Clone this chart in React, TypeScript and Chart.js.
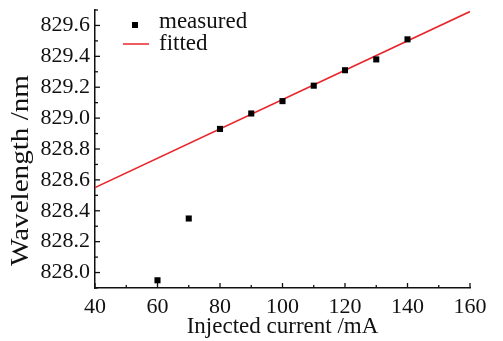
import React, { useEffect, useRef } from "react";
import { Chart, registerables } from "chart.js";

Chart.register(...registerables);

// ---- data ----
const currents = [60, 70, 80, 90, 100, 110, 120, 130, 140];
const wavelengths = [827.95, 828.35, 828.93, 829.03, 829.11, 829.21, 829.31, 829.38, 829.51];
const fitX = [40, 160];
const fitY = [828.55, 829.69];

const xMajorTicks = [40, 60, 80, 100, 120, 140, 160];
const xMinorTicks = [50, 70, 90, 110, 130, 150];
const yMajorTicks = [828.0, 828.2, 828.4, 828.6, 828.8, 829.0, 829.2, 829.4, 829.6];
const yMinorTicks = [827.9, 828.1, 828.3, 828.5, 828.7, 828.9, 829.1, 829.3, 829.5, 829.7];

const legendLabels = ["measured", "fitted"];
const xTitle = "Injected current /mA";
const yTitle = "Wavelength /nm";

const INK = "#111111";
const RED = "#e8262b";
const SERIF = "'Liberation Serif', 'Times New Roman', serif";

const inwardTicks = {
  id: "inwardTicks",
  afterDraw(chart: any) {
    const { ctx, chartArea, scales } = chart;
    const xs = scales.x;
    const ys = scales.y;
    ctx.save();
    ctx.strokeStyle = INK;
    ctx.lineWidth = 1.3;
    const seg = (x1: number, y1: number, x2: number, y2: number) => {
      ctx.beginPath();
      ctx.moveTo(x1, y1);
      ctx.lineTo(x2, y2);
      ctx.stroke();
    };
    const b = chartArea.bottom;
    const l = chartArea.left;
    xMajorTicks.forEach((v) => {
      const p = xs.getPixelForValue(v);
      seg(p, b, p, b - 5);
    });
    xMinorTicks.forEach((v) => {
      const p = xs.getPixelForValue(v);
      seg(p, b, p, b - 3);
    });
    yMajorTicks.forEach((v) => {
      const p = ys.getPixelForValue(v);
      seg(l, p, l + 5, p);
    });
    yMinorTicks.forEach((v) => {
      const p = ys.getPixelForValue(v);
      seg(l, p, l + 3, p);
    });
    ctx.restore();
  },
};

const yAxisTitle = {
  id: "yAxisTitle",
  afterDraw(chart: any) {
    const { ctx } = chart;
    ctx.save();
    ctx.translate(21, chart.height / 2);
    ctx.rotate(-Math.PI / 2);
    ctx.scale(1.12, 1);
    ctx.fillStyle = INK;
    ctx.font = `26px ${SERIF}`;
    ctx.textAlign = "center";
    ctx.textBaseline = "middle";
    ctx.fillText(yTitle, 0, 0);
    ctx.restore();
  },
};

const insideLegend = {
  id: "insideLegend",
  afterDraw(chart: any) {
    const { ctx, chartArea } = chart;
    const l = chartArea.left;
    const t = chartArea.top;
    ctx.save();
    ctx.fillStyle = "#000";
    ctx.fillRect(l + 37, t + 12, 6, 6);
    ctx.strokeStyle = RED;
    ctx.lineWidth = 1.5;
    ctx.beginPath();
    ctx.moveTo(l + 28, t + 34);
    ctx.lineTo(l + 54, t + 34);
    ctx.stroke();
    ctx.fillStyle = INK;
    ctx.font = `23px ${SERIF}`;
    ctx.textAlign = "left";
    ctx.textBaseline = "alphabetic";
    ctx.fillText(legendLabels[0], l + 64, t + 18);
    ctx.fillText(legendLabels[1], l + 64, t + 40);
    ctx.restore();
  },
};

export default function App() {
  const ref = useRef<HTMLCanvasElement | null>(null);

  useEffect(() => {
    document.body.style.margin = "0";
    const canvas = ref.current;
    if (!canvas) return;
    const chart = new Chart(canvas, {
      type: "scatter",
      data: {
        datasets: [
          {
            label: legendLabels[0],
            data: currents.map((c, i) => ({ x: c, y: wavelengths[i] })),
            backgroundColor: "#000",
            borderColor: "#000",
            pointStyle: "rect",
            pointRadius: 4.3,
            pointBorderWidth: 0,
            showLine: false,
          },
          {
            label: legendLabels[1],
            data: fitX.map((x, i) => ({ x, y: fitY[i] })),
            borderColor: RED,
            backgroundColor: RED,
            borderWidth: 1.6,
            pointRadius: 0,
            showLine: true,
          },
        ],
      },
      options: {
        responsive: false,
        animation: false,
        layout: { padding: { top: 10, right: 33, left: 0, bottom: 0 } },
        plugins: {
          legend: { display: false },
          tooltip: { enabled: false },
        },
        scales: {
          x: {
            type: "linear",
            min: 40,
            max: 160,
            grid: { display: false, drawTicks: false },
            border: { display: true, color: INK, width: 1.5 },
            afterBuildTicks: (scale: any) => {
              scale.ticks = xMajorTicks.map((v) => ({ value: v }));
            },
            afterFit: (scale: any) => {
              scale.height = 53;
              scale.paddingLeft = 0;
              scale.paddingRight = 0;
            },
            ticks: {
              autoSkip: false,
              maxRotation: 0,
              padding: 6,
              color: INK,
              font: { family: SERIF, size: 22 },
              callback: (v: any) => String(v),
            },
            title: {
              display: true,
              text: xTitle,
              color: INK,
              font: { family: SERIF, size: 23 },
              padding: { top: 0, bottom: 0 },
            },
          },
          y: {
            type: "linear",
            min: 827.9,
            max: 829.7,
            grid: { display: false, drawTicks: false },
            border: { display: true, color: INK, width: 1.5 },
            afterBuildTicks: (scale: any) => {
              scale.ticks = yMajorTicks.map((v) => ({ value: v }));
            },
            afterFit: (scale: any) => {
              scale.width = 95;
              scale.paddingTop = 0;
              scale.paddingBottom = 0;
            },
            ticks: {
              autoSkip: false,
              padding: 5,
              color: INK,
              font: { family: SERIF, size: 22 },
              callback: (v: any) => Number(v).toFixed(1),
            },
            title: { display: false },
          },
        },
      },
      plugins: [inwardTicks, insideLegend, yAxisTitle],
    });
    return () => chart.destroy();
  }, []);

  return (
    <div style={{ width: 503, height: 341, background: "#fff" }}>
      <canvas ref={ref} width={503} height={341} />
    </div>
  );
}
